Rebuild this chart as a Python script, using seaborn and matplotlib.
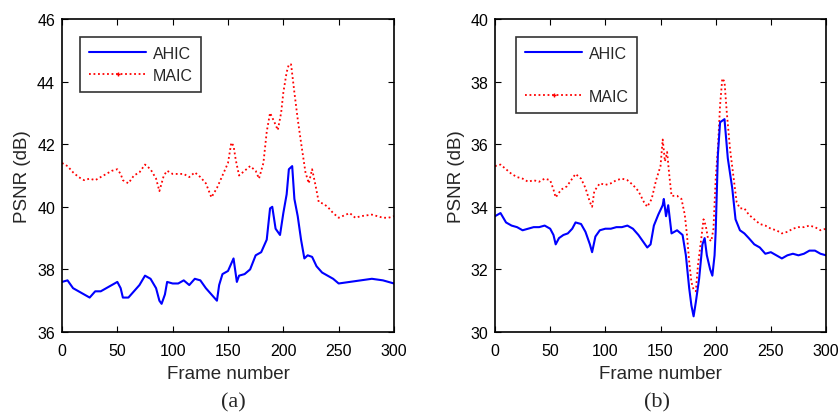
import numpy as np
import pandas as pd
import matplotlib
matplotlib.use("Agg")
import matplotlib.pyplot as plt
from matplotlib.lines import Line2D
import seaborn as sns

# ---- panel (a) ----
frames_a_ahic = [0, 5, 10, 15, 20, 25, 30, 35, 40, 45, 50, 53, 55, 60, 65, 70, 75, 80, 85, 88,
                 90, 93, 95, 100, 105, 110, 115, 120, 125, 130, 135, 140, 142, 145, 150, 155, 158,
                 160, 165, 170, 175, 180, 185, 188, 190, 193, 197, 200, 203, 205, 208, 210, 213,
                 216, 219, 222, 226, 230, 235, 240, 245, 250, 260, 270, 280, 290, 300]
psnr_a_ahic = [37.6, 37.65, 37.4, 37.3, 37.2, 37.1, 37.3, 37.3, 37.4, 37.5, 37.6, 37.4, 37.1, 37.1,
               37.3, 37.5, 37.8, 37.7, 37.4, 37.0, 36.9, 37.2, 37.6, 37.55, 37.55, 37.65, 37.5,
               37.7, 37.65, 37.4, 37.2, 37.0, 37.5, 37.85, 37.95, 38.35, 37.6, 37.8, 37.85, 38.0,
               38.45, 38.55, 38.95, 39.95, 40.0, 39.3, 39.1, 39.8, 40.4, 41.2, 41.3, 40.25, 39.7,
               38.95, 38.35, 38.45, 38.4, 38.1, 37.9, 37.8, 37.7, 37.55, 37.6, 37.65, 37.7, 37.65,
               37.55]

frames_a_maic = [0, 5, 10, 15, 20, 25, 30, 35, 40, 45, 50, 53, 55, 60, 65, 70, 75, 80, 85, 88,
                 92, 95, 100, 110, 115, 120, 125, 130, 135, 140, 145, 150, 153, 155, 157, 160, 165,
                 170, 175, 178, 182, 185, 188, 192, 195, 198, 200, 203, 205, 207, 210, 213, 216,
                 220, 223, 226, 229, 232, 236, 240, 245, 250, 260, 265, 270, 280, 290, 295, 300]
psnr_a_maic = [41.4, 41.3, 41.1, 40.95, 40.85, 40.9, 40.85, 40.95, 41.05, 41.15, 41.2, 41.05,
               40.85, 40.75, 41.0, 41.1, 41.35, 41.2, 40.9, 40.5, 41.0, 41.15, 41.05, 41.05, 40.95,
               41.1, 40.95, 40.75, 40.3, 40.6, 41.0, 41.4, 42.05, 41.95, 41.5, 41.0, 41.15, 41.3,
               41.15, 40.9, 41.4, 42.4, 43.0, 42.7, 42.45, 43.0, 43.65, 44.3, 44.55, 44.55, 43.65,
               42.8, 42.05, 41.1, 40.75, 41.2, 40.7, 40.15, 40.1, 40.0, 39.8, 39.65, 39.8, 39.65,
               39.7, 39.75, 39.65, 39.65, 39.7]

# ---- panel (b) ----
frames_b_ahic = [0, 5, 10, 15, 20, 25, 30, 35, 40, 45, 50, 53, 55, 58, 62, 66, 70, 73, 78, 82,
                 86, 88, 91, 95, 100, 105, 110, 115, 120, 125, 130, 135, 138, 141, 144, 148, 152,
                 153, 155, 157, 160, 165, 170, 173, 176, 178, 180, 182, 185, 188, 190, 192, 195,
                 197, 199, 200, 202, 204, 208, 211, 215, 218, 222, 226, 230, 235, 240, 245, 250,
                 255, 260, 265, 270, 275, 280, 285, 290, 295, 300]
psnr_b_ahic = [33.7, 33.8, 33.5, 33.4, 33.35, 33.25, 33.3, 33.35, 33.35, 33.4, 33.3, 33.1, 32.8,
               33.0, 33.1, 33.15, 33.3, 33.5, 33.45, 33.2, 32.8, 32.55, 33.05, 33.25, 33.3, 33.3,
               33.35, 33.35, 33.4, 33.3, 33.1, 32.85, 32.7, 32.8, 33.4, 33.75, 34.05, 34.25, 33.7,
               34.05, 33.15, 33.25, 33.1, 32.45, 31.4, 30.85, 30.5, 30.95, 31.7, 32.8, 33.0, 32.45,
               32.0, 31.8, 32.45, 33.2, 35.65, 36.7, 36.8, 35.55, 34.6, 33.6, 33.25, 33.15, 33.0,
               32.8, 32.7, 32.5, 32.55, 32.45, 32.35, 32.45, 32.5, 32.45, 32.5, 32.6, 32.6, 32.5,
               32.45]

frames_b_maic = [0, 5, 10, 15, 20, 25, 30, 35, 40, 45, 50, 53, 55, 60, 65, 70, 73, 78, 82, 86,
                 88, 90, 95, 100, 105, 110, 115, 120, 125, 130, 135, 138, 142, 146, 150, 152, 154,
                 156, 158, 160, 165, 169, 172, 174, 176, 178, 180, 182, 184, 187, 189, 191, 193,
                 196, 198, 200, 202, 204, 206, 208, 210, 213, 216, 219, 222, 226, 230, 235, 240,
                 245, 250, 255, 260, 265, 270, 275, 280, 285, 290, 295, 300]
psnr_b_maic = [35.3, 35.35, 35.2, 35.05, 34.95, 34.9, 34.8, 34.85, 34.8, 34.9, 34.85, 34.55, 34.3,
               34.55, 34.65, 34.9, 35.05, 34.9, 34.6, 34.15, 34.0, 34.5, 34.75, 34.7, 34.75, 34.85,
               34.9, 34.85, 34.7, 34.5, 34.15, 34.0, 34.25, 34.85, 35.3, 36.15, 35.45, 35.75, 35.0,
               34.35, 34.35, 34.25, 33.75, 33.1, 32.25, 31.6, 31.35, 31.3, 32.15, 33.0, 33.6, 33.4,
               33.0, 32.9, 33.3, 34.9, 35.85, 37.25, 38.1, 38.0, 37.05, 35.85, 35.0, 34.15, 33.95,
               33.95, 33.75, 33.6, 33.45, 33.4, 33.3, 33.25, 33.15, 33.2, 33.3, 33.35, 33.35, 33.4,
               33.35, 33.25, 33.3]

panels = [
    dict(ahic=(frames_a_ahic, psnr_a_ahic), maic=(frames_a_maic, psnr_a_maic),
         ylim=(36, 46), yticks=[36, 38, 40, 42, 44, 46], tag="(a)", tagx=233 / 840,
         rect=[62 / 840, 81 / 414, 332 / 840, 313 / 414],
         leg=(80 / 840, 376 / 414), legsp=0.45),
    dict(ahic=(frames_b_ahic, psnr_b_ahic), maic=(frames_b_maic, psnr_b_maic),
         ylim=(30, 40), yticks=[30, 32, 34, 36, 38, 40], tag="(b)", tagx=657 / 840,
         rect=[495 / 840, 81 / 414, 331 / 840, 313 / 414],
         leg=(516 / 840, 376 / 414), legsp=1.75),
]

sns.set_style("ticks")
plt.rcParams['font.family'] = ['Liberation Sans', 'DejaVu Sans']

fig = plt.figure(figsize=(8.4, 4.14), dpi=100)

for p in panels:
    ax = fig.add_axes(p["rect"])
    da = pd.DataFrame({"frame": p["ahic"][0], "psnr": p["ahic"][1]})
    dm = pd.DataFrame({"frame": p["maic"][0], "psnr": p["maic"][1]})
    sns.lineplot(data=dm, x="frame", y="psnr", ax=ax, color="#ff0000", lw=1.3,
                 linestyle=(0, (1, 1.5)))
    sns.lineplot(data=da, x="frame", y="psnr", ax=ax, color="#0000ff", lw=1.5)
    ax.set_xlim(0, 300)
    ax.set_ylim(*p["ylim"])
    ax.set_xticks(range(0, 301, 50))
    ax.set_yticks(p["yticks"])
    ax.tick_params(direction="in", top=True, right=True, length=4, width=0.8,
                   labelsize=11.5, colors="black", pad=5)
    ax.tick_params(axis="x", pad=8)
    for s in ax.spines.values():
        s.set_color("black")
        s.set_linewidth(1.2)
    ax.set_xlabel("Frame number", fontsize=13.5, labelpad=5)
    ax.set_ylabel("PSNR (dB)", fontsize=13.5, labelpad=4)
    handles = [Line2D([], [], color="#0000ff", lw=1.5),
               Line2D([], [], color="#ff0000", lw=1.3, linestyle=(0, (1, 1.5)),
                      marker="+", markersize=3)]
    leg = ax.legend(handles, ["AHIC", "MAIC"], loc="upper left",
                    bbox_to_anchor=p["leg"], bbox_transform=fig.transFigure,
                    frameon=True, fancybox=False, edgecolor="black", fontsize=11.5,
                    handlelength=3.6, handletextpad=0.4, borderpad=0.55,
                    labelspacing=p["legsp"], numpoints=1, borderaxespad=0)
    leg.get_frame().set_linewidth(1.2)
    fig.text(p["tagx"], 0.027, p["tag"], ha="center", va="center", fontsize=16,
             family="Liberation Serif")

fig.savefig("out.png", dpi=100)
